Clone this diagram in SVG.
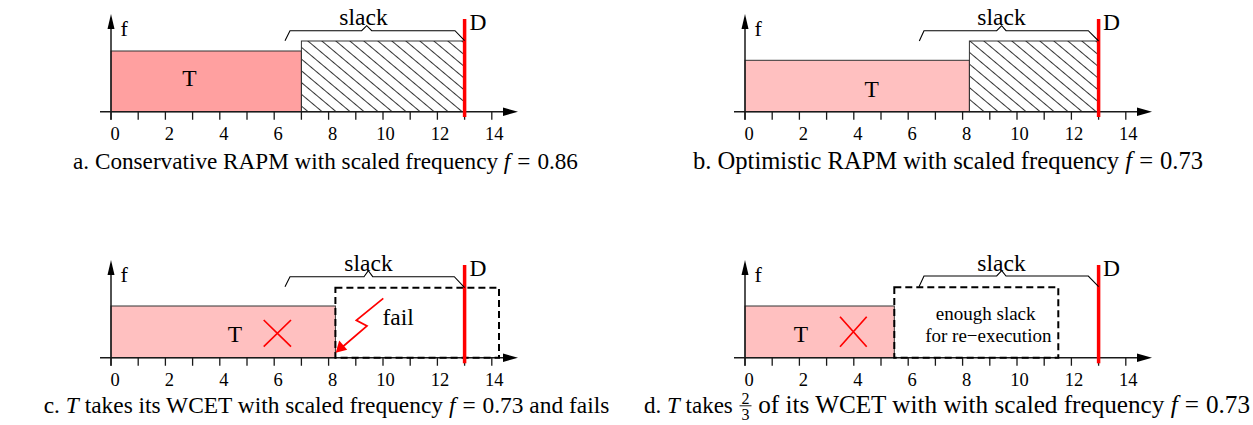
<svg xmlns="http://www.w3.org/2000/svg" width="1253" height="425" viewBox="0 0 1253 425">
<style>
.ax{stroke:#1a1a1a;stroke-width:1.5;fill:none}
.tk{stroke:#1a1a1a;stroke-width:1.3;fill:none}
.box{stroke:#333;stroke-width:1}
.brace{fill:none;stroke:#000;stroke-width:1.1}
.dl{stroke:#f00;stroke-width:3.5}
.dash{fill:none;stroke:#000;stroke-width:2;stroke-dasharray:7 4}
.red{stroke:#f00;stroke-width:1.7;fill:none}
text{font-family:"Liberation Serif","Times New Roman",serif;fill:#000}
.lbl{font-size:23.5px}
.f{font-size:22px}
.num{font-size:18.5px;text-anchor:middle}
.in{font-size:19px;text-anchor:middle}
.capl{font-size:23.2px}
.capc{font-size:23.4px}
.capr{font-size:24.6px}
.mid{text-anchor:middle}
.end{text-anchor:end}
.it{font-style:italic}
</style>
<defs>
<pattern id="hatch" patternUnits="userSpaceOnUse" width="10" height="9" patternTransform="rotate(40)">
<line x1="-1" y1="4.5" x2="11" y2="4.5" stroke="#000" stroke-width="0.8"/>
</pattern>
<g id="axes">
<path class="ax" d="M100 111.7H506M111 119.7V28"/>
<polygon points="503,107.5 518,111.7 503,116" fill="#000"/>
<polygon points="107.5,29 111,14 114.5,29" fill="#000"/>
<path class="tk" d="M111 111.7v8M138.2 111.7v8M165.4 111.7v8M192.6 111.7v8M219.8 111.7v8M247 111.7v8M274.2 111.7v8M301.4 111.7v8M328.6 111.7v8M355.8 111.7v8M383 111.7v8M410.2 111.7v8M437.4 111.7v8M464.6 111.7v8M491.8 111.7v8"/>
<text class="num" x="115" y="140">0</text>
<text class="num" x="169.4" y="140">2</text>
<text class="num" x="223.8" y="140">4</text>
<text class="num" x="278.2" y="140">6</text>
<text class="num" x="332.6" y="140">8</text>
<text class="num" x="385.5" y="140">10</text>
<text class="num" x="439.9" y="140">12</text>
<text class="num" x="494.3" y="140">14</text>
<text class="f" x="120.5" y="35.5">f</text>
</g>
</defs>

<g id="panel-a">
<rect class="box" x="111" y="51" width="190.4" height="60.7" fill="#ffa0a0"/>
<rect class="box" x="301.4" y="41" width="163.2" height="70.7" fill="url(#hatch)"/>
<use href="#axes"/>
<line class="dl" x1="464.6" y1="19" x2="464.6" y2="117"/>
<text class="lbl" x="469.5" y="29.5">D</text>
<text class="lbl mid" x="189.5" y="85.5">T</text>
<path class="brace" d="M285 40.7L290 30.7H361.7L366.7 25.7L371.7 30.7H455L464.6 40.7"/>
<text class="lbl mid" x="363.5" y="25">slack</text>
</g>

<g id="panel-b" transform="translate(634,0)">
<rect class="box" x="111" y="60.3" width="224.4" height="51.4" fill="#ffc0c0"/>
<rect class="box" x="335.4" y="41" width="129.2" height="70.7" fill="url(#hatch)"/>
<use href="#axes"/>
<line class="dl" x1="464.6" y1="19" x2="464.6" y2="117"/>
<text class="lbl" x="469" y="29.5">D</text>
<text class="lbl mid" x="237.7" y="96.5">T</text>
<path class="brace" d="M285.3 41L290 30.7H362.7L367.7 25.7L372 30.7H454.3L464.6 41"/>
<text class="lbl mid" x="367.5" y="25">slack</text>
</g>

<g id="panel-c" transform="translate(0,246)">
<rect class="box" x="111" y="60" width="224.4" height="51.7" fill="#ffc0c0"/>
<use href="#axes"/>
<rect class="dash" x="335.4" y="41.7" width="163.6" height="70"/>
<line class="dl" x1="464.6" y1="19" x2="464.6" y2="117.3"/>
<text class="lbl" x="469.5" y="30">D</text>
<text class="lbl mid" x="235" y="96">T</text>
<path class="red" d="M263.7 74L291 100.7M263.7 100.7L291 74"/>
<text class="lbl" x="382.5" y="78.5">fail</text>
<path class="brace" d="M285 40.7L290 30.7H364L368.3 24.7L372.7 30.7H454.3L464.6 41.7"/>
<text class="lbl mid" x="368.5" y="24.5">slack</text>
</g>

<g id="panel-d" transform="translate(634,246)">
<rect class="box" x="111" y="60" width="149.3" height="51.7" fill="#ffc0c0"/>
<use href="#axes"/>
<rect class="dash" x="260.3" y="41.3" width="164" height="70.4"/>
<line class="dl" x1="464.6" y1="19" x2="464.6" y2="117.3"/>
<text class="lbl" x="469" y="30">D</text>
<text class="lbl mid" x="167" y="96">T</text>
<path class="red" d="M206 70.7L232.7 100.7M206 100.7L232.7 70.7"/>
<text class="in" x="351.7" y="73.5">enough slack</text>
<text class="in" x="354.3" y="96">for re−execution</text>
<path class="brace" d="M285 40.7L290 30H362.7L367.7 24.7L372 30H454.3L464.6 40.7"/>
<text class="lbl mid" x="367.5" y="24.5">slack</text>
</g>

<g id="connectors">
<polyline class="red" points="383.3,298.3 356.3,320.3 367,326 343,346.5"/>
<polygon points="335.7,352.7 339.2,340.5 347.2,349.8" fill="#f00"/>
</g>

<g id="captions">
<text class="capl mid" x="325.5" y="169">a. Conservative RAPM with scaled frequency <tspan class="it">f</tspan><tspan dx="7">=</tspan><tspan dx="7">0.86</tspan></text>
<text class="capr mid" x="948" y="169">b. Optimistic RAPM with scaled frequency <tspan class="it">f</tspan><tspan dx="7">=</tspan><tspan dx="7">0.73</tspan></text>
<text class="capc mid" x="326.5" y="413">c. <tspan class="it">T</tspan> takes its WCET with scaled frequency <tspan class="it">f</tspan><tspan dx="7">=</tspan><tspan dx="7">0.73</tspan> and fails</text>
<text x="644" y="413" style="font-size:23px">d. <tspan class="it">T</tspan> takes</text>
<text class="end" x="1250" y="413" style="font-size:25.2px">of its WCET with with scaled frequency <tspan class="it">f</tspan><tspan dx="7">=</tspan><tspan dx="7">0.73</tspan></text>
<text x="745.5" y="403.5" style="font-size:16px;text-anchor:middle">2</text>
<line x1="739.5" y1="405.8" x2="751.5" y2="405.8" stroke="#000" stroke-width="0.9"/>
<text x="745.5" y="420" style="font-size:16px;text-anchor:middle">3</text>
</g>
</svg>
